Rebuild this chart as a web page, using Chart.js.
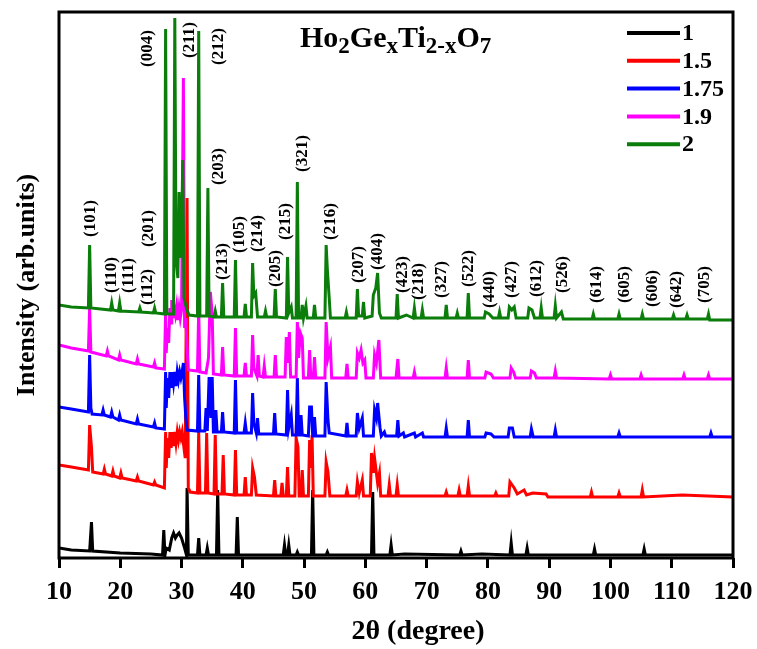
<!DOCTYPE html>
<html>
<head>
<meta charset="utf-8">
<script src="https://cdn.jsdelivr.net/npm/chart.js@4.4.1/dist/chart.umd.min.js"></script>
<style>
  html, body { margin: 0; padding: 0; background: #fff; }
  #wrap { width: 757px; height: 649px; }
</style>
</head>
<body>
<div id="wrap"><canvas id="xrd" width="757" height="649"></canvas></div>
<script>
// XRD patterns of Ho2GexTi2-xO7, stacked (offsets already in the intensities)
// points are [2theta, intensity in arb. units]
const seriesLabels = ['1', '1.5', '1.75', '1.9', '2'];
const seriesColors = ['#000000', '#ff0000', '#0000ff', '#ff00ff', '#0a7d0a'];

const x1 = [[10,10],[12,8],[15.0,7],[15.3,36],[15.5,7],[20,5],[25,4],[26.9,3],[27.1,28],[27.3,3],[27.5,10],[28.0,8],
  [28.4,20],[28.7,25],[29.0,20],[29.3,23],[29.6,25],[30.0,20],[30.5,10],[30.8,3],[30.9,70],[31.1,3],[32.6,3],[32.8,20],
  [33.0,3],[34.0,3],[34.2,10],[34.4,3],[35.7,3],[35.9,68],[36.1,3],[38.9,3],[39.1,41],[39.3,3],[46.6,3],[46.8,13],
  [47.0,3],[47.3,3],[47.5,13],[47.7,3],[48.7,3],[48.9,6],[49.1,3],[51.2,3],[51.4,68],[51.6,3],[53.6,3],[53.8,6],
  [54.0,3],[61.0,3],[61.2,66],[61.4,3],[64.0,3],[64.2,13],[64.4,3],[66.4,4],[75.4,3],[75.6,7],[75.8,3],[79.0,4],
  [83.6,3],[83.8,15],[84.0,3],[86.2,3],[86.4,10],[86.6,3],[97.2,3],[97.4,9],[97.6,3],[105.3,3],[105.5,9],[105.7,3],[120,3]];

const x15 = [[10,93],[12,91],[14.8,88],[15.0,133],[15.3,111],[15.5,86],[17.2,84],[17.4,89],[17.6,84],[18.6,82],[18.8,87],
  [19.0,82],[19.9,80],[20.1,85],[20.3,80],[22.6,77],[22.8,81],[23.0,77],[25.4,73],[25.6,76],[25.8,73],[27.2,70],[27.4,126],
  [27.5,90],[27.7,120],[27.9,100],[28.1,126],[28.3,110],[28.5,126],[28.7,112],[28.9,126],[29.1,115],[29.3,126],[29.5,118],
  [29.7,126],[29.9,120],[30.1,126],[30.3,115],[30.6,100],[30.9,360],
  [31.1,70],[31.4,66],[32.6,65],[32.8,126],[33.0,65],[33.9,65],[34.1,125],[34.3,65],[35.3,64],[35.5,123],[35.7,64],
  [36.6,64],[36.8,103],[37.0,64],[38.6,63],[38.8,108],[39.0,63],[40.2,63],[40.4,81],[40.6,63],[41.4,63],[41.6,90],
  [41.9,81],[42.2,63],[45.0,62],[45.2,78],[45.4,62],[46.2,62],[46.4,75],[46.6,62],[47.1,62],[47.3,91],[47.5,62],
  [48.5,62],[48.7,120],[49.0,111],[49.2,62],[49.5,62],[49.7,88],[49.9,62],[50.7,62],[50.9,118],[51.1,90],[51.3,123],
  [51.5,62],[53.4,62],[53.6,96],[53.9,86],[54.2,62],[56.8,62],[57.0,68],[57.2,62],[58.5,62],[58.7,76],[59.0,65],
  [59.5,78],[59.7,62],[60.8,62],[61.0,105],[61.3,85],[61.5,100],[62.0,75],[62.3,85],[62.5,62],[63.7,62],[63.9,73],
  [64.1,62],[65.0,62],[65.2,73],[65.4,62],[73.0,62],[73.2,66],[73.4,62],[75.1,62],[75.3,68],[75.5,62],[76.6,62],
  [76.8,72],[77.0,62],[81.1,62],[81.3,65],[81.5,62],[83.4,62],[83.6,76],[84.3,70],[84.8,64],[85.9,68],[86.3,63],
  [87.3,65],[89.5,64],[89.8,61],[96.7,61],[96.9,66],[97.1,61],[101.2,61],[101.4,65],[101.6,61],[105.0,61],[105.2,68],
  [105.4,61],[111.7,63],[120,61]];

const x175 = [[10,151],[12,149],[14.8,146],[15.0,203],[15.2,150],[15.4,144],[17.0,143],[17.2,148],[17.4,143],[18.4,141],
  [18.6,146],[18.8,141],[19.7,138],[19.9,143],[20.1,138],[22.6,134],[22.8,139],[23.0,134],[25.4,131],[25.6,135],[25.8,130],
  [27.2,129],[27.4,186],[27.5,150],[27.7,180],[27.9,160],[28.1,186],[28.3,170],[28.5,186],[28.7,175],[28.9,186],[29.1,172],
  [29.3,186],[29.5,178],[29.7,186],[29.9,180],[30.1,186],[30.3,195],[30.5,160],[30.7,140],[30.9,128],
  [32.6,127],[32.8,183],[33.0,127],[33.8,127],[34.0,150],[34.2,127],[34.5,181],[34.8,140],[35.0,181],
  [35.2,126],[35.4,126],[35.6,148],[35.8,126],[36.5,126],[36.7,146],[36.9,126],[38.6,125],[38.8,178],[39.0,125],[40.2,125],
  [40.4,135],[40.6,125],[41.4,125],[41.6,165],[41.8,135],[42.2,125],[42.4,140],[42.6,124],[45.0,124],[45.2,145],[45.4,124],
  [47.1,123],[47.3,168],[47.5,130],[47.9,143],[48.1,123],[48.7,123],[48.9,180],[49.1,123],[49.3,123],[49.5,143],[49.7,123],
  [50.7,122],[50.9,151],[51.2,151],[51.4,122],[51.5,122],[51.7,141],[51.9,122],[53.4,122],[53.6,176],[53.9,138],[54.1,125],
  [56.8,122],[57.0,135],[57.2,122],[58.5,122],[58.7,145],[59.0,130],[59.5,140],[59.7,122],[61.3,122],[61.5,148],[61.8,140],
  [62.0,155],[62.4,130],[62.6,122],[63.1,126],[63.3,122],[65.1,122],[65.3,138],[65.5,122],[66.2,125],[66.4,121],[68.0,125],
  [68.2,121],[69.3,125],[69.5,121],[73.0,121],[73.2,130],[73.4,121],[76.6,121],[76.8,138],[77.0,121],[79.5,121],[79.7,125],
  [80.5,124],[81.0,121],[83.3,121],[83.5,130],[84.0,130],[84.3,121],[86.9,121],[87.1,129],[87.4,121],[90.8,121],[91.0,128],
  [91.2,121],[101.2,121],[101.4,125],[101.6,121],[116.2,121],[116.4,125],[116.6,121],[120,121]];

const x19 = [[10,213],[12,210],[14.8,207],[15.0,250],[15.2,206],[17.7,202],[17.9,207],[18.1,202],[19.7,198],[19.9,203],
  [20.1,198],[22.6,194],[22.8,199],[23.0,194],[25.4,191],[25.6,195],[25.8,190],[27.2,189],[27.4,246],[27.5,205],[27.7,230],
  [27.9,215],[28.1,250],[28.3,235],[28.4,258],[28.6,240],[28.8,250],[29.0,243],[29.2,252],[29.4,238],[29.6,250],[29.8,240],
  [30.0,248],[30.3,480],[30.5,230],[30.7,240],[30.9,210],[31.1,188],[32.6,187],
  [32.8,248],[33.0,186],[34.0,185],[34.4,200],[34.7,266],[35.0,245],[35.2,184],[36.5,183],[36.7,211],[36.9,183],[38.6,182],
  [38.8,230],[39.0,182],[40.2,182],[40.4,195],[40.6,182],[41.4,182],[41.6,223],[41.8,190],[42.3,182],[42.5,203],[42.7,182],
  [43.3,181],[43.5,192],[43.7,181],[45.1,181],[45.3,203],[45.5,181],[46.9,181],[47.1,221],[47.3,195],[47.6,226],[47.8,181],
  [48.7,181],[48.9,236],[49.1,200],[49.4,225],[49.7,220],[49.9,180],[50.7,180],[50.9,208],[51.1,180],[51.5,180],[51.7,201],
  [51.9,180],[53.4,180],[53.6,236],[53.9,200],[54.3,211],[54.5,180],[56.8,180],[57.0,194],[57.2,180],[58.5,180],[58.7,205],
  [59.0,200],[59.3,208],[59.6,195],[59.9,198],[60.1,180],[61.3,180],[61.5,203],[61.8,195],[62.2,218],[62.5,180],[65.0,180],
  [65.3,199],[65.5,180],[67.8,180],[68.0,186],[68.2,180],[73.0,180],[73.2,190],[73.4,180],[76.6,180],[76.8,198],[77.0,180],
  [79.5,180],[79.7,186],[80.5,184],[80.9,180],[83.6,180],[83.8,190],[84.2,186],[84.5,180],[86.9,180],[87.1,187],[87.6,185],
  [87.9,180],[90.8,180],[91.0,187],[91.2,180],[99.8,179],[100.0,183],[100.2,179],[104.8,179],[105.0,183],[105.2,179],
  [111.8,179],[112.0,183],[112.2,179],[115.8,179],[116.0,183],[116.2,179],[120,179]];

const x2 = [[10,253],[12,251],[14.8,250],[15.0,313],[15.2,250],[18.4,248],[18.6,255],[18.8,248],[19.7,247],[19.9,255],
  [20.1,247],[23.0,246],[23.2,250],[23.4,246],[25.4,245],[25.6,250],[25.8,245],[27.2,244],[27.4,529],[27.6,244],[28.7,244],
  [28.9,540],[29.1,300],[29.4,280],[29.6,366],[29.8,300],[30.0,320],[30.2,398],[30.4,260],[30.8,250],[31.2,243],[32.6,242],
  [32.8,527],[33.0,242],[34.1,242],[34.3,370],[34.5,242],[35.3,241],[35.5,247],[35.7,241],[36.5,241],[36.7,275],[36.9,241],
  [38.6,241],[38.8,298],[39.0,241],[40.2,241],[40.4,254],[40.6,241],[41.4,241],[41.6,295],[41.8,262],[42.1,265],[42.4,241],
  [43.5,241],[43.7,247],[43.9,241],[45.1,241],[45.3,269],[45.5,241],[47.1,240],[47.3,301],[47.5,245],[47.9,251],[48.1,240],
  [48.7,240],[48.9,376],[49.1,240],[49.5,240],[49.7,253],[49.9,240],[50.3,252],[50.5,240],[51.5,240],[51.7,253],[51.9,240],
  [53.4,240],[53.6,313],[53.8,288],[54.1,260],[54.3,240],[56.7,240],[56.9,246],[57.1,240],[58.5,240],[58.7,269],[58.9,242],
  [59.5,242],[59.7,256],[59.9,240],[61.1,242],[61.3,263],[61.7,270],[62.0,285],[62.3,245],[62.6,240],[65.0,240],[65.2,264],
  [65.4,240],[66.7,243],[67.8,240],[68.0,250],[68.2,240],[69.1,240],[69.3,248],[69.5,240],[73.0,240],[73.2,253],[73.4,240],
  [74.8,240],[75.0,245],[75.2,240],[76.6,240],[76.8,265],[77.0,240],[79.4,240],[79.6,246],[80.2,244],[80.8,240],[81.7,240],
  [81.9,246],[82.1,240],[83.3,240],[83.5,251],[83.9,248],[84.3,251],[84.6,240],[86.5,240],[86.7,250],[87.2,248],[87.6,240],
  [88.5,240],[88.7,250],[88.9,240],[90.8,240],[91.0,252],[91.2,240],[92.0,246],[92.3,239],[97.0,239],[97.2,244],[97.4,239],
  [101.2,239],[101.4,244],[101.6,239],[105.0,239],[105.2,244],[105.4,239],[110.1,239],[110.3,243],[110.5,239],[112.3,239],
  [112.5,243],[112.7,239],[115.8,239],[116.0,244],[116.2,238],[120,238]];

const seriesData = [x1, x15, x175, x19, x2];

// Miller indices, position (2theta) and intensity where the rotated text starts
const hklText  = ['(101)','(110)','(111)','(112)','(201)','(004)','(211)','(212)','(203)','(213)','(105)','(214)','(205)',
  '(215)','(321)','(216)','(207)','(404)','(423)','(218)','(327)','(522)','(440)','(427)','(612)','(526)','(614)','(605)',
  '(606)','(642)','(705)'];
const hklTheta = [15.14,18.56,21.34,24.44,24.60,24.44,31.29,36.02,36.02,36.67,39.45,42.38,45.32,46.95,49.72,54.29,58.86,
  61.96,66.04,68.65,72.40,76.80,80.23,83.82,87.90,92.14,97.68,102.25,106.82,110.73,115.30];
const hklBase  = [321,265,265,253,311,491,500,493,373,278,305,306,271,318,386,318,275,288,265,258,260,271,250,260,261,265,
  255,255,251,250,255];

const xTicks = [10, 20, 30, 40, 50, 60, 70, 80, 90, 100, 110, 120];

const serif = '"Liberation Serif", "Times New Roman", serif';

const decorations = {
    id: 'decorations',
    afterDraw(chart) {
        const ctx = chart.ctx;
        const area = chart.chartArea;
        const xs = chart.scales.x;
        const ys = chart.scales.y;

        ctx.save();
        // frame
        ctx.strokeStyle = '#000';
        ctx.lineWidth = 3;
        ctx.strokeRect(area.left, area.top, area.right - area.left, area.bottom - area.top);

        // hkl labels
        ctx.fillStyle = '#000';
        ctx.font = 'bold 17px ' + serif;
        ctx.textAlign = 'left';
        ctx.textBaseline = 'middle';
        for (let i = 0; i < hklText.length; i++) {
            ctx.save();
            ctx.translate(xs.getPixelForValue(hklTheta[i]), ys.getPixelForValue(hklBase[i]));
            ctx.rotate(-Math.PI / 2);
            ctx.fillText(hklText[i], 0, 0);
            ctx.restore();
        }

        // x axis title, sits a bit right of the centre in the original
        ctx.font = 'bold 28px ' + serif;
        ctx.textAlign = 'center';
        ctx.fillText('2θ (degree)', 418, 632);

        // formula
        const parts = [['Ho', 0], ['2', 1], ['Ge', 0], ['x', 1], ['Ti', 0], ['2-x', 1], ['O', 0], ['7', 1]];
        let fx = 300;
        const fy = 47;
        ctx.textAlign = 'left';
        ctx.textBaseline = 'alphabetic';
        parts.forEach(p => {
            ctx.font = p[1] ? 'bold 23px ' + serif : 'bold 30px ' + serif;
            ctx.fillText(p[0], fx, p[1] ? fy + 6 : fy);
            fx += ctx.measureText(p[0]).width;
        });

        // legend
        ctx.font = 'bold 24px ' + serif;
        ctx.textBaseline = 'middle';
        ctx.lineWidth = 4;
        chart.data.datasets.forEach((ds, i) => {
            const ly = 33 + i * 27.8;
            ctx.strokeStyle = ds.borderColor;
            ctx.beginPath();
            ctx.moveTo(627, ly);
            ctx.lineTo(680, ly);
            ctx.stroke();
            ctx.fillStyle = '#000';
            ctx.fillText(ds.label, 682, ly + 1);
        });
        ctx.restore();
    }
};

new Chart(document.getElementById('xrd'), {
    type: 'line',
    data: {
        datasets: seriesData.map((d, i) => ({
            label: seriesLabels[i],
            data: d,
            borderColor: seriesColors[i],
            borderWidth: 3,
            pointRadius: 0,
            tension: 0,
            fill: false,
            order: seriesData.length - i
        }))
    },
    options: {
        responsive: false,
        animation: false,
        events: [],
        layout: { padding: { top: 12, right: 24, left: 0, bottom: 0 } },
        plugins: { legend: { display: false }, tooltip: { enabled: false } },
        scales: {
            x: {
                type: 'linear',
                min: 10,
                max: 120,
                afterFit: s => { s.height = 91; s.paddingLeft = 0; s.paddingRight = 0; },
                afterBuildTicks: s => { s.ticks = xTicks.map(v => ({ value: v })); },
                border: { display: false },
                grid: { display: true, drawOnChartArea: false, drawTicks: true, tickLength: 10, tickWidth: 3, tickColor: '#000' },
                ticks: { color: '#000', padding: 9, maxRotation: 0, font: { family: serif, size: 26, weight: 'bold' } },
                title: { display: false }
            },
            y: {
                min: 0,
                max: 546,
                afterFit: s => { s.width = 59; },
                border: { display: false },
                grid: { display: false },
                ticks: { display: false },
                title: { display: true, text: 'Intensity (arb.units)', color: '#000', padding: { top: 12, bottom: 0 },
                    font: { family: serif, size: 26, weight: 'bold' } }
            }
        }
    },
    plugins: [decorations]
});
</script>
</body>
</html>
